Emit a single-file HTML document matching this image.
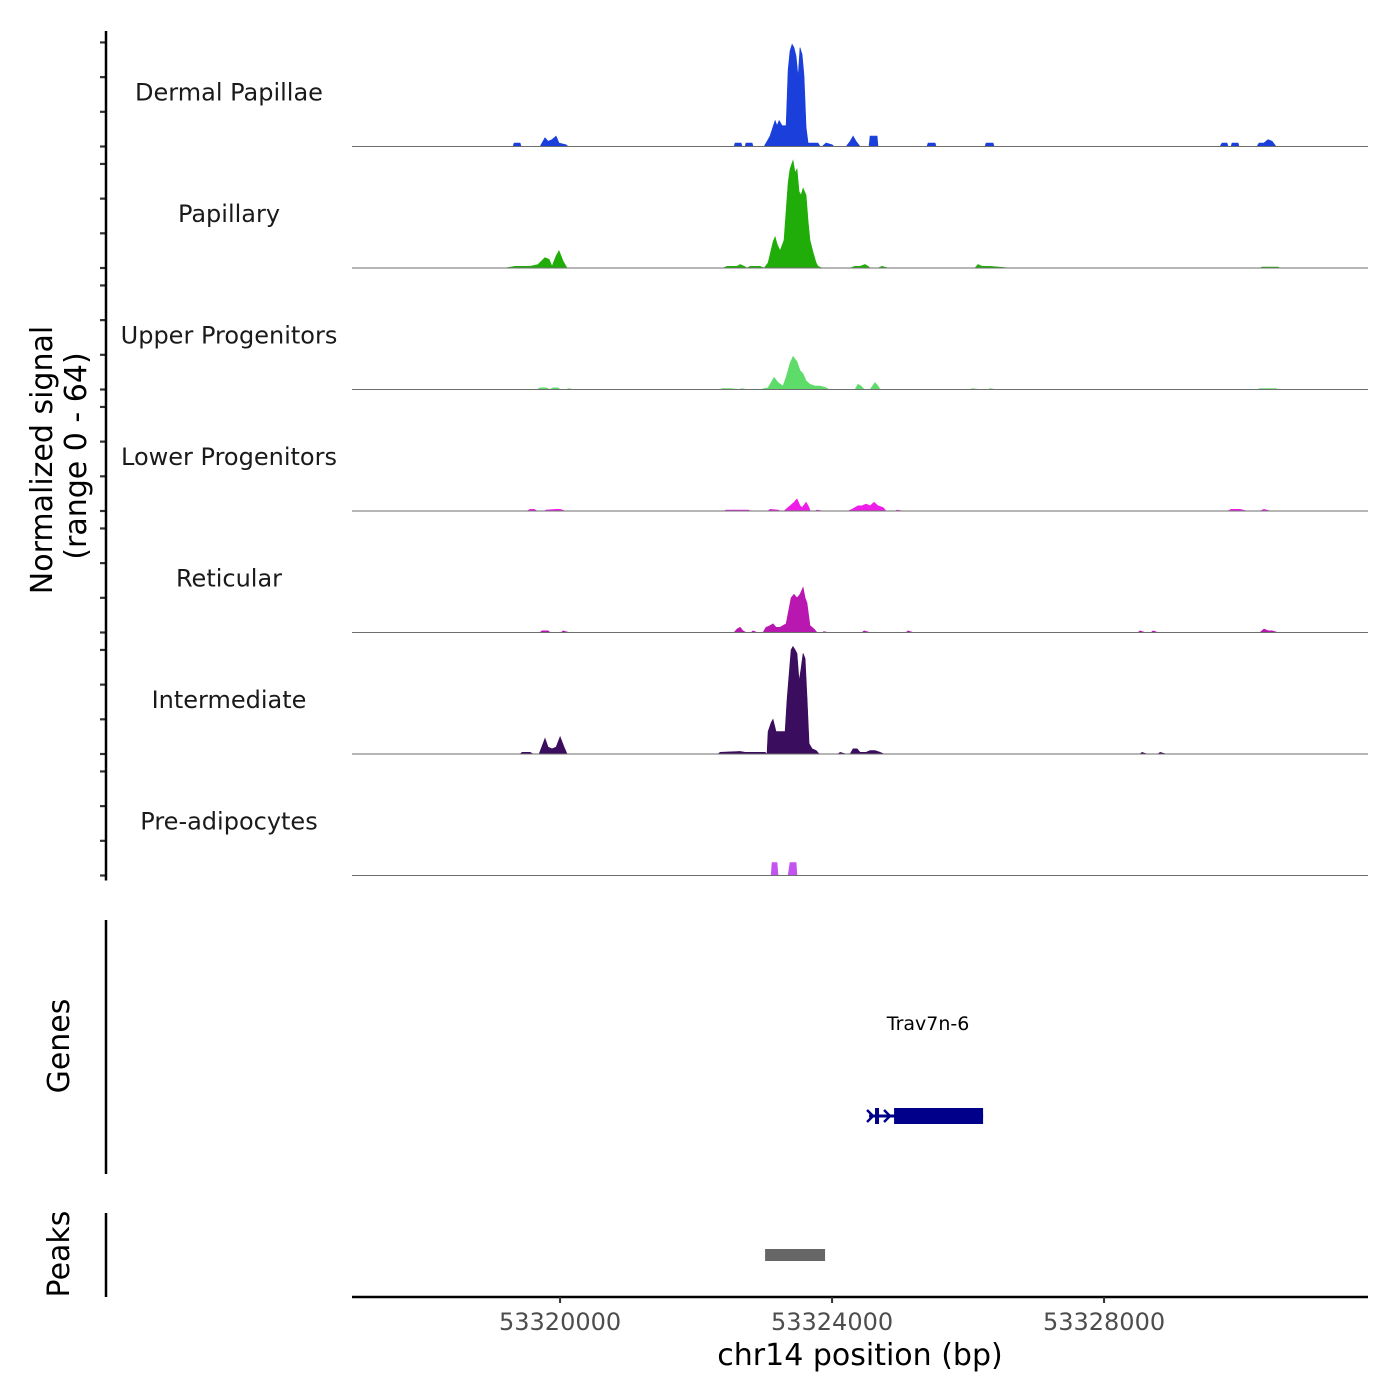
<!DOCTYPE html>
<html><head><meta charset="utf-8"><style>
html,body{margin:0;padding:0;background:#fff;}
svg{display:block;font-family:"DejaVu Sans","Liberation Sans",sans-serif;}
</style></head><body>
<svg id="chart" width="1400" height="1400" viewBox="0 0 1400 1400" xmlns="http://www.w3.org/2000/svg">
<rect x="0" y="0" width="1400" height="1400" fill="#fff"/>
<g id="tracks"></g>
<g id="yaxis"></g>
<text transform="translate(52,460) rotate(-90)" text-anchor="middle" font-size="30" fill="#000">Normalized signal</text>
<text transform="translate(86,456) rotate(-90)" text-anchor="middle" font-size="30" fill="#000">(range 0 - 64)</text>
<line x1="106" y1="920" x2="106" y2="1174" stroke="#000" stroke-width="2.5"/>
<text transform="translate(69,1046) rotate(-90)" text-anchor="middle" font-size="30" fill="#000">Genes</text>
<line x1="106" y1="1213" x2="106" y2="1297" stroke="#000" stroke-width="2.5"/>
<text transform="translate(69,1254) rotate(-90)" text-anchor="middle" font-size="30" fill="#000">Peaks</text>
<g id="genes"></g>
<g id="peaks"></g>
<g id="xaxis"></g>
<text x="860" y="1365" text-anchor="middle" font-size="30" fill="#000">chr14 position (bp)</text>
</svg>
<script>
const regionDomain = [53316940, 53331882];
const signalRange = [0, 64];
const yTicks = [0, 20, 40, 60];
const trackNames = ["Dermal Papillae","Papillary","Upper Progenitors","Lower Progenitors","Reticular","Intermediate","Pre-adipocytes"];
const trackColors = ["#1a3fdb","#21ad09","#5ddc6a","#ee1ee8","#b918b0","#3b0d5e","#c353f0"];
const xTicks = [53320000, 53324000, 53328000];
const xTickLabels = ["53320000","53324000","53328000"];

const dermalPapillae = [[53319309,0],[53319324,2],[53319412,2],[53319427,0],
[53319706,0],[53319735,2],[53319779,5],[53319824,3],[53319882,4],[53319941,6],[53319985,2],[53320088,1],[53320118,0],
[53322559,0],[53322574,2],[53322662,2],[53322676,0],[53322721,0],[53322735,2],[53322824,2],[53322838,0],
[53323000,0],[53323088,6],[53323162,15],[53323191,12],[53323221,15],[53323265,12],[53323324,12],[53323353,44],[53323382,55],[53323412,59],[53323441,57],[53323471,52],[53323500,40],[53323529,57],[53323559,53],[53323588,41],[53323618,11],[53323647,2],[53323794,2],[53323824,0],[53323853,0],[53323912,2],[53324000,1],[53324029,0],
[53324206,0],[53324265,3],[53324309,6],[53324353,3],[53324412,0],[53324544,0],[53324559,6],[53324662,6],[53324676,0],
[53325397,0],[53325412,2],[53325515,2],[53325529,0],[53326250,0],[53326265,2],[53326368,2],[53326382,0],
[53329706,0],[53329735,2],[53329809,2],[53329824,0],[53329868,0],[53329882,2],[53329971,2],[53329985,0],[53330250,0],[53330279,2],[53330353,2],[53330412,4],[53330471,3],[53330529,0]];

const papillary = [[53319191,0],[53319338,1],[53319559,1],[53319676,2],[53319779,6],[53319838,5],[53319882,1],[53319941,7],[53319985,10],[53320044,4],[53320103,0],
[53322397,0],[53322456,1],[53322603,1],[53322647,2],[53322706,1],[53322750,0],[53322794,1],[53322941,1],
[53323000,0],[53323059,3],[53323132,15],[53323162,18],[53323191,14],[53323235,10],[53323294,16],[53323324,33],[53323353,49],[53323382,57],[53323426,62],[53323456,55],[53323485,57],[53323515,44],[53323544,42],[53323574,46],[53323618,42],[53323647,27],[53323676,16],[53323721,9],[53323765,3],[53323794,1],[53323853,0],
[53324265,0],[53324338,1],[53324412,1],[53324485,2],[53324529,1],[53324559,0],[53324676,0],[53324735,1],[53324824,0],
[53326103,0],[53326147,2],[53326206,1],[53326324,1],[53326618,0],
[53330294,0],[53330324,0.5],[53330559,0.5],[53330588,0]];

const upperProgenitors = [[53319662,0],[53319706,1],[53319794,1],[53319853,0],[53319897,1],[53319971,1],[53320000,0],[53320103,0],[53320118,0.5],[53320206,0],
[53322353,0],[53322382,0.5],[53322500,0.5],[53322647,0],[53322662,0.5],[53322765,0],
[53322941,0],[53323059,1],[53323147,7],[53323206,4],[53323279,2],[53323324,7],[53323382,15],[53323426,19],[53323485,16],[53323529,11],[53323574,9],[53323618,5],[53323676,3],[53323750,2],[53323824,2],[53323912,1],[53323956,0],
[53324338,0],[53324382,3],[53324426,2],[53324471,0],[53324559,0],[53324632,4],[53324676,2],[53324706,0],
[53326029,0],[53326059,0.5],[53326176,0],[53326294,0],[53326324,0.5],[53326412,0],
[53330250,0],[53330294,0.5],[53330529,0.5],[53330559,0]];

const lowerProgenitors = [[53319515,0],[53319559,1],[53319618,1],[53319662,0],[53319765,0],[53319794,0.5],[53319941,1],[53320000,1],[53320074,0],
[53322412,0],[53322441,0.5],[53322765,0.5],[53322809,0],[53323059,0],[53323088,1],[53323206,0.5],[53323235,0],
[53323294,0],[53323382,3],[53323441,5],[53323485,7],[53323529,3],[53323559,2],[53323618,5],[53323662,2],[53323676,0],[53323750,0],[53323779,0.5],[53323868,0],
[53324235,0],[53324294,1],[53324382,3],[53324441,3],[53324500,4],[53324559,3],[53324618,5],[53324676,3],[53324750,2],[53324794,0],[53324926,0],[53324956,0.5],[53325044,0],
[53329824,0],[53329868,1],[53330000,1],[53330103,0],[53330294,0],[53330353,1],[53330441,0]];

const reticular = [[53319706,0],[53319735,1],[53319824,1],[53319853,0],[53320015,0],[53320044,1],[53320132,0],
[53322559,0],[53322603,2],[53322647,3],[53322691,1],[53322735,0],[53322809,0],[53322838,1],[53322897,0],
[53322985,0],[53323029,3],[53323088,4],[53323132,5],[53323176,3],[53323235,3],[53323324,5],[53323353,11],[53323397,20],[53323441,22],[53323485,20],[53323529,22],[53323574,26],[53323603,20],[53323632,17],[53323676,4],[53323735,2],[53323779,0],
[53323853,0],[53323882,0.5],[53323941,0],[53324441,0],[53324471,1],[53324559,0],[53325088,0],[53325118,1],[53325191,0],
[53328500,0],[53328529,1],[53328603,0],[53328691,0],[53328721,1],[53328794,0],[53330294,0],[53330353,2],[53330412,1],[53330471,1],[53330559,0]];

const intermediate = [[53319412,0],[53319441,1],[53319559,1],[53319603,0],[53319691,0],[53319779,9],[53319824,4],[53319882,3],[53319941,4],[53320000,10],[53320059,4],[53320103,0],
[53322324,0],[53322353,1],[53322647,1.5],[53322721,1],[53323015,1],[53323044,0],
[53323059,13],[53323103,18],[53323132,20],[53323176,13],[53323235,13],[53323309,13],[53323338,31],[53323368,46],[53323397,60],[53323426,62],[53323456,60],[53323485,58],[53323515,42],[53323544,49],[53323574,58],[53323603,55],[53323632,33],[53323662,6],[53323706,3],[53323765,2],[53323809,0],
[53324088,0],[53324118,1],[53324206,0],[53324265,0],[53324309,3],[53324368,3],[53324412,1],[53324500,1],[53324559,2],[53324632,2],[53324706,1],[53324765,0],
[53328529,0],[53328559,1],[53328632,0],[53328794,0],[53328824,1],[53328912,0]];

const preAdipocytes = [[53323103,0],[53323118,7.5],[53323191,7.5],[53323206,0],[53323353,0],[53323382,7.5],[53323471,7.5],[53323485,0]];

const trackSeries = [dermalPapillae, papillary, upperProgenitors, lowerProgenitors, reticular, intermediate, preAdipocytes];

const geneName = "Trav7n-6";
const geneSpan = [53324544, 53326221];
const geneExons = [[53324632, 53324691], [53324912, 53326221]];
const peakRegions = [[53323015, 53323897]];

const NS = "http://www.w3.org/2000/svg";
const X0 = 352, X1 = 1368;
const firstBase = 146.5, trackH = 121.5, valueH = 111;
function x(bp){ return X0 + (bp - regionDomain[0]) / (regionDomain[1] - regionDomain[0]) * (X1 - X0); }
function y(v, base){ return base - (v - signalRange[0]) / (signalRange[1] - signalRange[0]) * valueH; }
function mk(tag, attrs, parent){ const e = document.createElementNS(NS, tag); for (const k in attrs) e.setAttribute(k, attrs[k]); parent.appendChild(e); return e; }

const gT = document.getElementById('tracks');
const gY = document.getElementById('yaxis');
trackSeries.forEach((series, i) => {
  const base = firstBase + i * trackH;
  const slug = trackNames[i].toLowerCase().replace(/[^a-z]+/g, '-');
  let d = "M" + x(series[0][0]).toFixed(1) + "," + base;
  series.forEach(p => { d += " L" + x(p[0]).toFixed(1) + "," + y(p[1], base).toFixed(1); });
  d += " L" + x(series[series.length-1][0]).toFixed(1) + "," + base + " Z";
  const area = mk('path', {d: d, fill: trackColors[i], stroke: trackColors[i], 'stroke-width': 0.6}, gT);
  
  
  const bl = mk('line', {x1: X0, x2: X1, y1: base, y2: base, stroke: '#6e6e6e', 'stroke-width': 1}, gT);
  
  
  const lab = mk('text', {x: 229, y: base - 46, 'text-anchor': 'middle', 'font-size': 24, fill: '#1a1a1a'}, gT);
  lab.textContent = trackNames[i];
  
  
  yTicks.forEach(tv => {
    const ty = y(tv, base);
    const t = mk('line', {x1: 100, x2: 106, y1: ty, y2: ty, stroke: '#333', 'stroke-width': 2.2}, gY);
    
    
  });
});

const topY = firstBase - trackH, botY = firstBase + 6 * trackH;
const ax = mk('line', {x1: 106, x2: 106, y1: topY + 6, y2: botY + 5, stroke: '#000', 'stroke-width': 2.5}, gY);



const gG = document.getElementById('genes');
const gy = 1116;
const gl = mk('line', {x1: x(geneSpan[0]), x2: x(geneSpan[1]), y1: gy, y2: gy, stroke: '#00008b', 'stroke-width': 3}, gG);


geneExons.forEach(ex => {
  const r = mk('rect', {x: x(ex[0]), y: gy - 8, width: x(ex[1]) - x(ex[0]), height: 16, fill: '#00008b'}, gG);
  
  
});
[x(geneSpan[0]) + 2, x(geneSpan[0]) + 19].forEach(ax0 => {
  const ar = mk('path', {d: `M${ax0-4},${gy-6} L${ax0+2},${gy} L${ax0-4},${gy+6}`, fill: 'none', stroke: '#00008b', 'stroke-width': 2.5}, gG);
  
  
});
const gn = mk('text', {x: (x(geneSpan[0]) + x(geneSpan[1])) / 2 + 2, y: 1030, 'text-anchor': 'middle', 'font-size': 19, fill: '#000'}, gG);
gn.textContent = geneName;



const gP = document.getElementById('peaks');
peakRegions.forEach(p => {
  const r = mk('rect', {x: x(p[0]), y: 1249, width: x(p[1]) - x(p[0]), height: 12, fill: '#666'}, gP);
  
  
});

const gX = document.getElementById('xaxis');
const xl = mk('line', {x1: X0, x2: X1, y1: 1297, y2: 1297, stroke: '#000', 'stroke-width': 2.5}, gX);


xTicks.forEach((t, i) => {
  const tk = mk('line', {x1: x(t), x2: x(t), y1: 1297, y2: 1303, stroke: '#333', 'stroke-width': 2}, gX);
  
  
  const tl = mk('text', {x: x(t), y: 1330, 'text-anchor': 'middle', 'font-size': 24, fill: '#4d4d4d'}, gX);
  tl.textContent = xTickLabels[i];
  
  
});
</script>
</body></html>
